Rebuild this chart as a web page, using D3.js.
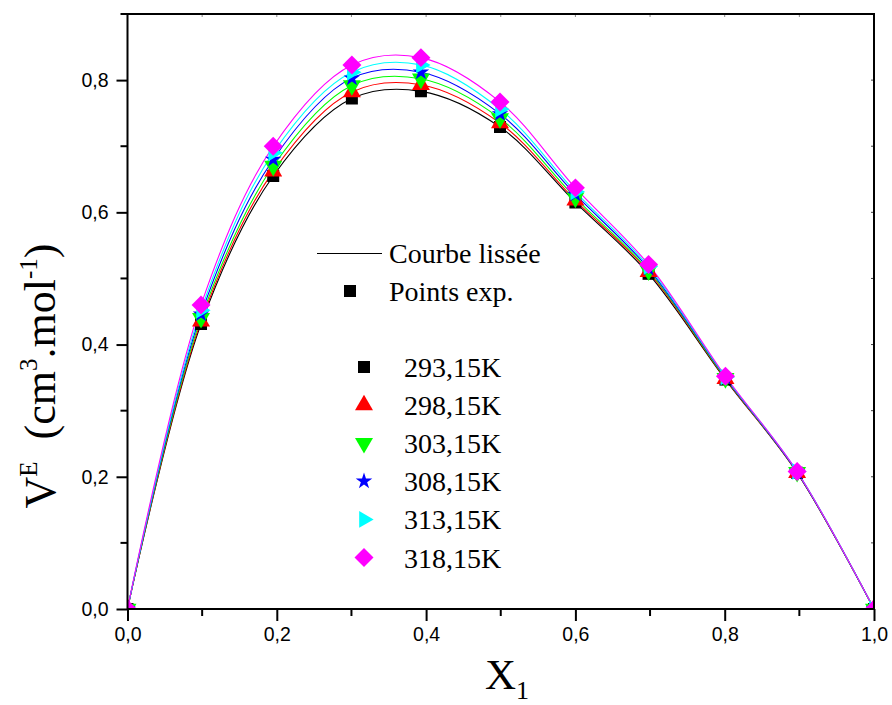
<!DOCTYPE html>
<html>
<head>
<meta charset="utf-8">
<script src="https://cdn.jsdelivr.net/npm/d3@7"></script>
<style>
  html, body { margin: 0; padding: 0; background: #fff; }
  svg { display: block; }
</style>
</head>
<body>
<svg id="chart" width="892" height="705"></svg>
<script>
// Mole fraction of component 1
const moleFraction = [0, 0.0985, 0.1952, 0.3006, 0.3931, 0.4990, 0.6000, 0.6980, 0.8010, 0.8970, 1.0];

// Temperatures (legend labels)
const temperatures = ["293,15K", "298,15K", "303,15K", "308,15K", "313,15K", "318,15K"];

// Excess molar volume V^E (cm3.mol-1) at each temperature
const ve293 = [0, 0.431, 0.655, 0.772, 0.783, 0.729, 0.615, 0.507, 0.347, 0.206, 0];
const ve298 = [0, 0.435, 0.662, 0.782, 0.793, 0.735, 0.618, 0.510, 0.348, 0.206, 0];
const ve303 = [0, 0.440, 0.670, 0.792, 0.802, 0.742, 0.622, 0.512, 0.349, 0.207, 0];
const ve308 = [0, 0.446, 0.680, 0.803, 0.812, 0.749, 0.627, 0.515, 0.350, 0.207, 0];
const ve313 = [0, 0.452, 0.690, 0.812, 0.823, 0.756, 0.631, 0.518, 0.351, 0.208, 0];
const ve318 = [0, 0.460, 0.700, 0.823, 0.834, 0.767, 0.637, 0.521, 0.352, 0.208, 0];

// Axis tick values and labels
const xTicks = [0, 0.2, 0.4, 0.6, 0.8, 1.0];
const xTickLabels = ["0,0", "0,2", "0,4", "0,6", "0,8", "1,0"];
const yTicks = [0, 0.2, 0.4, 0.6, 0.8];
const yTickLabels = ["0,0", "0,2", "0,4", "0,6", "0,8"];

const seriesValues = [ve293, ve298, ve303, ve308, ve313, ve318];
const colors = ["#000000", "#ff0000", "#00ff00", "#0000ff", "#00ffff", "#ff00ff"];

// Marker shapes: square, up triangle, down triangle, star, right triangle, diamond
const markers = [
  { type: d3.symbolSquare, size: 144, rot: 0 },
  { type: d3.symbolTriangle, size: 140, rot: 0 },
  { type: d3.symbolTriangle, size: 140, rot: 180 },
  { type: d3.symbolStar, size: 85, rot: 0 },
  { type: d3.symbolTriangle, size: 120, rot: 90 },
  { type: d3.symbolSquare, size: 180, rot: 45 }
];

const svg = d3.select("#chart");
const plotLeft = 127.5, plotRight = 874, plotTop = 14, plotBottom = 609;

const x = d3.scaleLinear().domain([0, 1]).range([plotLeft, plotRight]);
const y = d3.scaleLinear().domain([0, 0.9]).range([plotBottom, plotTop]);

svg.append("defs").append("clipPath").attr("id", "plotClip")
  .append("rect").attr("x", plotLeft).attr("y", plotTop)
  .attr("width", plotRight - plotLeft).attr("height", plotBottom - plotTop);

const plot = svg.append("g").attr("clip-path", "url(#plotClip)");

const line = d3.line()
  .x((d, i) => x(moleFraction[i]))
  .y(d => y(d))
  .curve(d3.curveCatmullRom.alpha(0.5));

// Smoothed curves
seriesValues.forEach((vals, k) => {
  plot.append("path")
    .datum(vals)
    .attr("d", line)
    .attr("fill", "none")
    .attr("stroke", colors[k])
    .attr("stroke-width", 1.1);
});

// Experimental points
seriesValues.forEach((vals, k) => {
  const m = markers[k];
  const sym = d3.symbol().type(m.type).size(m.size);
  plot.selectAll(null)
    .data(vals)
    .join("path")
    .attr("d", sym)
    .attr("transform", (d, i) => `translate(${x(moleFraction[i])},${y(d)}) rotate(${m.rot})`)
    .attr("fill", colors[k]);
});

// Axes
const xMinor = d3.range(0, 1.0001, 0.1);
const yMinor = d3.range(0, 0.9001, 0.1);

const xAxis = d3.axisBottom(x).tickValues(xTicks)
  .tickFormat((d, i) => xTickLabels[i]).tickSize(12).tickPadding(6);
const yAxis = d3.axisLeft(y).tickValues(yTicks)
  .tickFormat((d, i) => yTickLabels[i]).tickSize(11).tickPadding(8);

const gx = svg.append("g").attr("transform", `translate(0,${plotBottom})`).call(xAxis);
const gy = svg.append("g").attr("transform", `translate(${plotLeft},0)`).call(yAxis);

[gx, gy].forEach(g => {
  g.select(".domain").remove();
  g.selectAll(".tick line").attr("stroke", "#000").attr("stroke-width", 2);
  g.selectAll(".tick text")
    .attr("fill", "#000")
    .style("font-family", "'Liberation Sans', Arial, sans-serif")
    .style("font-size", "19.5px");
});

// Minor ticks
svg.append("g").selectAll(null)
  .data(xMinor.filter(v => !xTicks.some(t => Math.abs(t - v) < 1e-6)))
  .join("line")
  .attr("x1", d => x(d)).attr("x2", d => x(d))
  .attr("y1", plotBottom).attr("y2", plotBottom + 7)
  .attr("stroke", "#000").attr("stroke-width", 2);

svg.append("g").selectAll(null)
  .data(yMinor.filter(v => !yTicks.some(t => Math.abs(t - v) < 1e-6)))
  .join("line")
  .attr("x1", plotLeft - 7).attr("x2", plotLeft)
  .attr("y1", d => y(d)).attr("y2", d => y(d))
  .attr("stroke", "#000").attr("stroke-width", 2);

// Mirror ticks on top and right
svg.append("g").selectAll(null)
  .data(xMinor)
  .join("line")
  .attr("x1", d => x(d)).attr("x2", d => x(d))
  .attr("y1", plotTop).attr("y2", plotTop + 3)
  .attr("stroke", "#888").attr("stroke-width", 1);
svg.append("g").selectAll(null)
  .data(yMinor)
  .join("line")
  .attr("x1", plotRight - 3).attr("x2", plotRight)
  .attr("y1", d => y(d)).attr("y2", d => y(d))
  .attr("stroke", "#444").attr("stroke-width", 1);

// Frame
svg.append("rect")
  .attr("x", plotLeft).attr("y", plotTop)
  .attr("width", plotRight - plotLeft).attr("height", plotBottom - plotTop)
  .attr("fill", "none").attr("stroke", "#000").attr("stroke-width", 2);

const serif = "'Liberation Serif', 'Times New Roman', serif";

// Axis titles
const xt = svg.append("text")
  .attr("x", 507).attr("y", 689)
  .attr("text-anchor", "middle")
  .style("font-family", serif).style("font-size", "43px").attr("fill", "#000");
xt.append("tspan").text("X");
xt.append("tspan").attr("dy", 10).style("font-size", "26px").text("1");

const yt = svg.append("text")
  .attr("transform", "translate(55,376) rotate(-90)")
  .attr("text-anchor", "middle")
  .style("font-family", serif).style("font-size", "44px").attr("fill", "#000");
yt.append("tspan").text("V");
yt.append("tspan").attr("dy", -18).style("font-size", "25px").text("E");
yt.append("tspan").attr("dy", 18).text("\u00a0 (cm");
yt.append("tspan").attr("dy", -18).style("font-size", "25px").text("3");
yt.append("tspan").attr("dy", 18).text(".mol");
yt.append("tspan").attr("dy", -18).style("font-size", "25px").text("-1");
yt.append("tspan").attr("dy", 18).text(")");

// Legend
const legendFont = "28px";
svg.append("line")
  .attr("x1", 317).attr("x2", 382).attr("y1", 253.5).attr("y2", 253.5)
  .attr("stroke", "#000").attr("stroke-width", 1);
svg.append("text").attr("x", 389).attr("y", 263)
  .style("font-family", serif).style("font-size", legendFont).attr("fill", "#000")
  .text("Courbe lissée");
svg.append("path")
  .attr("d", d3.symbol().type(d3.symbolSquare).size(144)())
  .attr("transform", "translate(350,291)").attr("fill", "#000");
svg.append("text").attr("x", 389).attr("y", 301)
  .style("font-family", serif).style("font-size", legendFont).attr("fill", "#000")
  .text("Points exp.");

const legendRows = svg.append("g").selectAll("g")
  .data(temperatures)
  .join("g")
  .attr("transform", (d, i) => `translate(364,${367 + i * 38.1})`);

legendRows.append("path")
  .attr("d", (d, i) => d3.symbol().type(markers[i].type).size(markers[i].size)())
  .attr("transform", (d, i) => `rotate(${markers[i].rot})`)
  .attr("fill", (d, i) => colors[i]);

legendRows.append("text")
  .attr("x", 40).attr("y", 10)
  .style("font-family", serif).style("font-size", legendFont).attr("fill", "#000")
  .text(d => d);
</script>
</body>
</html>
